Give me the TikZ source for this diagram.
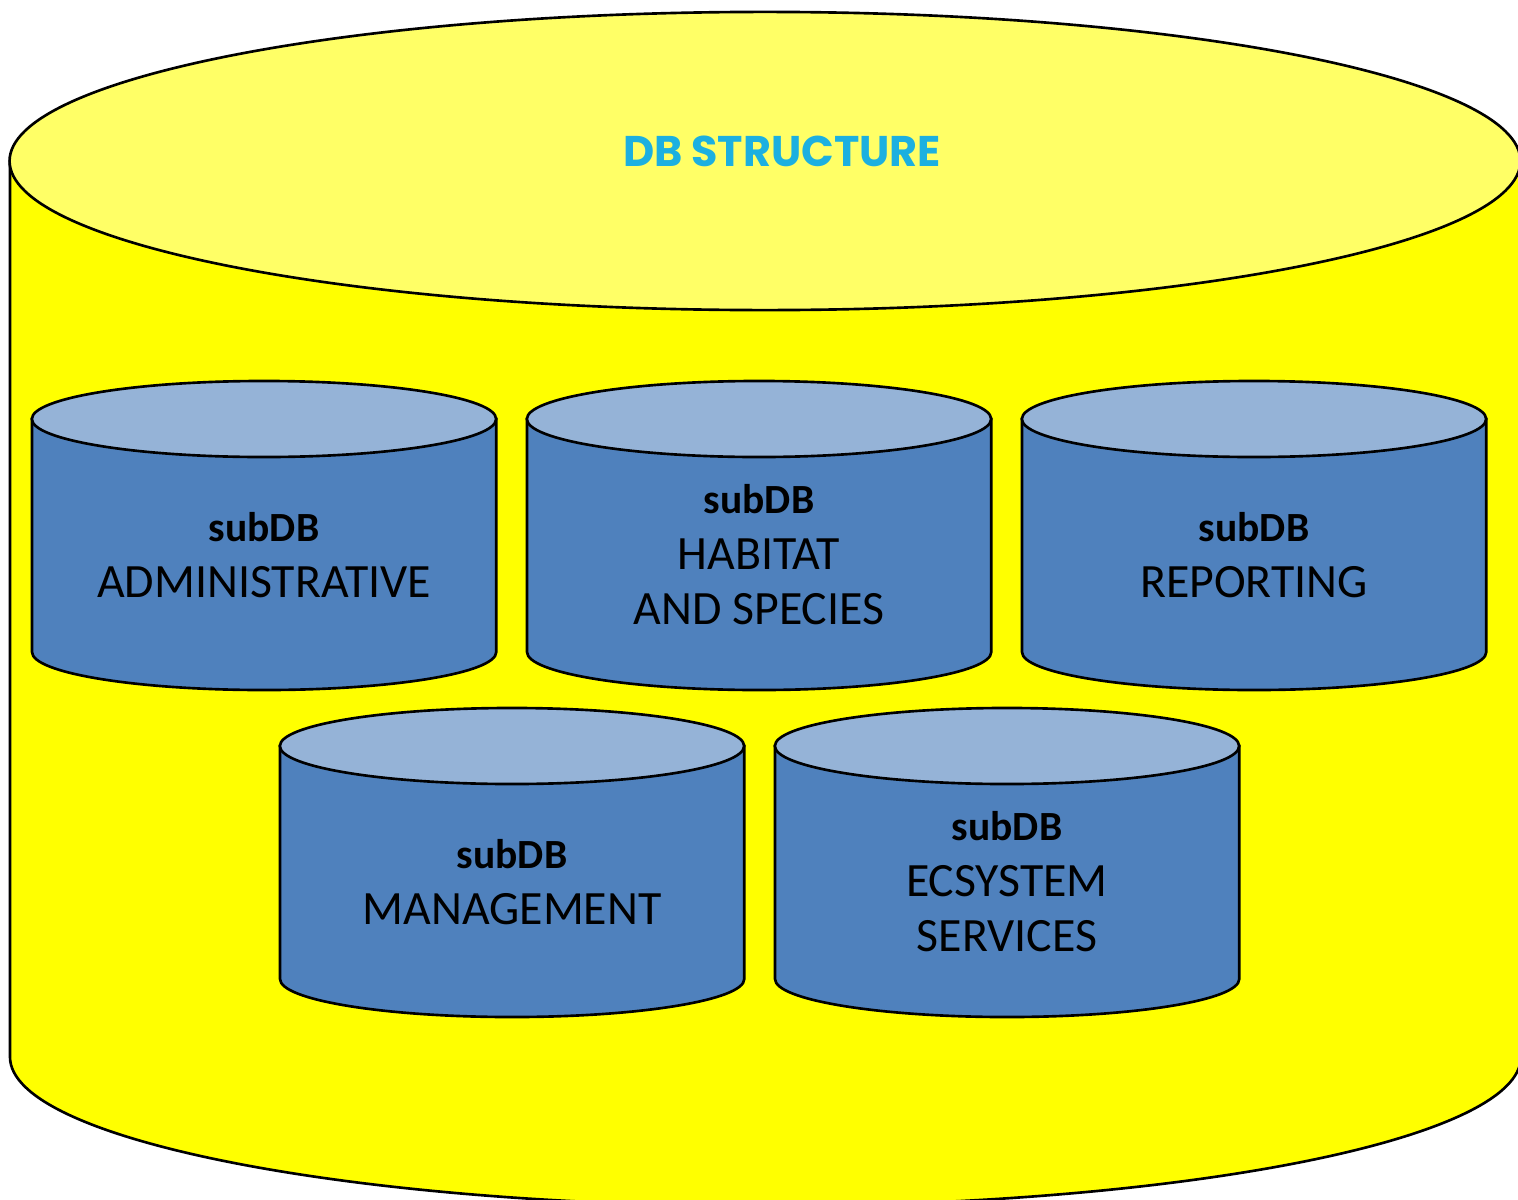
\documentclass[tikz,border=0pt]{standalone}
\usepackage{fontspec}
\setmainfont{Carlito}
\newfontfamily\titlefont{Poppins}
\usepackage{tikz}
\usetikzlibrary{positioning}
\definecolor{dbbody}{HTML}{FFFF00}
\definecolor{dbtop}{HTML}{FFFF66}
\definecolor{subbody}{HTML}{4F81BD}
\definecolor{subtop}{HTML}{95B3D7}
\definecolor{titleblue}{HTML}{1CB0E0}

\begin{document}
\begin{tikzpicture}[x=0.01cm, y=-0.01cm,
    cyl/.style={draw=black, line width=0.75pt},
    subtext/.style={align=center, text=black, font=\fontsize{13.6}{15.8}\selectfont}]
    \useasboundingbox (0,0) rectangle (1518,1200);
    \clip (0,0) rectangle (1518,1200);

    % Main DB cylinder
    \draw[cyl, fill=dbbody] (10,161) -- (10,1057) arc (180:360:7.55cm and 1.49cm) -- (1520,161) -- cycle;
    \draw[cyl, fill=dbtop] (765,161) ellipse [x radius=7.55cm, y radius=1.49cm];
    \node[text=titleblue, font=\titlefont\bfseries\fontsize{12.2}{15}\selectfont] (title) at (782,151) {DB STRUCTURE};

    % Sub databases
    \foreach \cx/\yt/\nm/\txt in {264/419/adm/ADMINISTRATIVE, 759/419/hab/{HABITAT\\AND SPECIES},
        1254/419/rep/REPORTING, 512/746/man/MANAGEMENT, 1007/746/eco/{ECSYSTEM\\SERVICES}}
    {
        \draw[cyl, fill=subbody] (\cx-232,\yt) -- ++(0,233) arc (180:360:2.32cm and 0.38cm) -- ++(0,-233) -- cycle;
        \draw[cyl, fill=subtop] (\cx,\yt) ellipse [x radius=2.32cm, y radius=0.38cm];
        \node[subtext] (\nm) at (\cx,\yt+136) {{\fontsize{11.8}{15.8}\selectfont\bfseries subDB}\\\txt};
    }
\end{tikzpicture}
\end{document}
